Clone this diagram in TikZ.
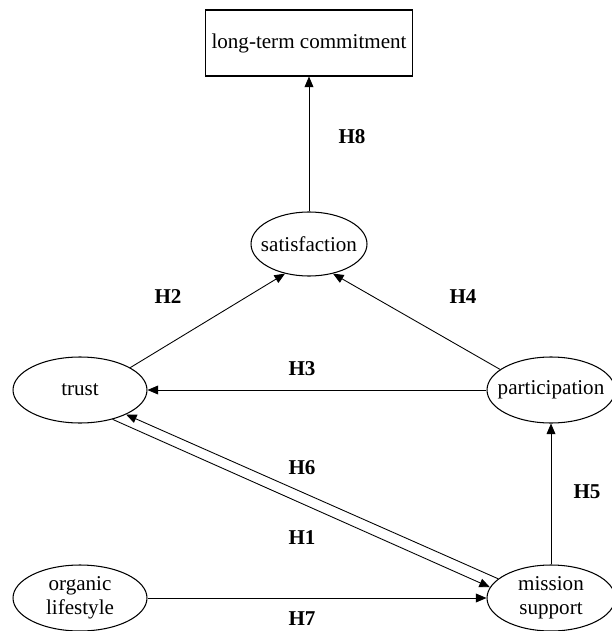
\documentclass[tikz,border=0pt]{standalone}
\usepackage{fontspec}
\setmainfont{Liberation Serif}
\usetikzlibrary{arrows.meta,shapes.geometric}

\begin{document}
\begin{tikzpicture}[
    x=0.02cm, y=-0.02cm,
    construct/.style={draw, ellipse, line width=0.6pt, inner sep=0pt,
                      minimum width=2.68cm, minimum height=1.32cm},
    cname/.style={font=\fontsize{12}{13.6}\selectfont, align=center},
    outcome/.style={draw, rectangle, line width=0.6pt,
                    minimum width=4.08cm, minimum height=1.32cm,
                    font=\fontsize{12}{14}\selectfont},
    hyp/.style={font=\fontsize{12}{14}\selectfont\bfseries},
    arr/.style={-{Triangle[length=6pt, width=5pt]}, line width=0.5pt},
  ]
  \useasboundingbox (0,0) rectangle (611,631);

  % Constructs
  \node[outcome] (commit) at (309,43) {long-term commitment};
  \node[construct, minimum width=2.32cm, minimum height=1.28cm,
        label={[cname]center:satisfaction}] (satis) at (309,244) {};
  \node[construct, label={[cname]center:trust}] (trust) at (80,390) {};
  \node[construct, minimum width=2.56cm,
        label={[cname]center:participation}] (partic) at (551,390) {};
  \node[construct, label={[cname]center:organic\\lifestyle}] (organic) at (80,598) {};
  \node[construct, minimum width=2.56cm,
        label={[cname]center:mission\\support}] (mission) at (551,598) {};

  % Paths
  \draw[arr] (satis) -- (commit);
  \draw[arr] (trust.24) -- (satis.231);
  \draw[arr] (partic.158) -- (satis.309);
  \draw[arr] (partic) -- (trust);
  \draw[arr] (mission.160) -- (trust.332);
  \draw[arr] (trust.318) -- (mission.170);
  \draw[arr] (mission) -- (partic);
  \draw[arr] (organic) -- (mission);

  % Hypotheses
  \node[hyp] (h8) at (352,137) {H8};
  \node[hyp] (h2) at (168,297) {H2};
  \node[hyp] (h4) at (463,297) {H4};
  \node[hyp] (h3) at (302,369) {H3};
  \node[hyp] (h6) at (302,468) {H6};
  \node[hyp] (h1) at (302,538) {H1};
  \node[hyp] (h5) at (587,492) {H5};
  \node[hyp] (h7) at (302,619) {H7};
\end{tikzpicture}
\end{document}
